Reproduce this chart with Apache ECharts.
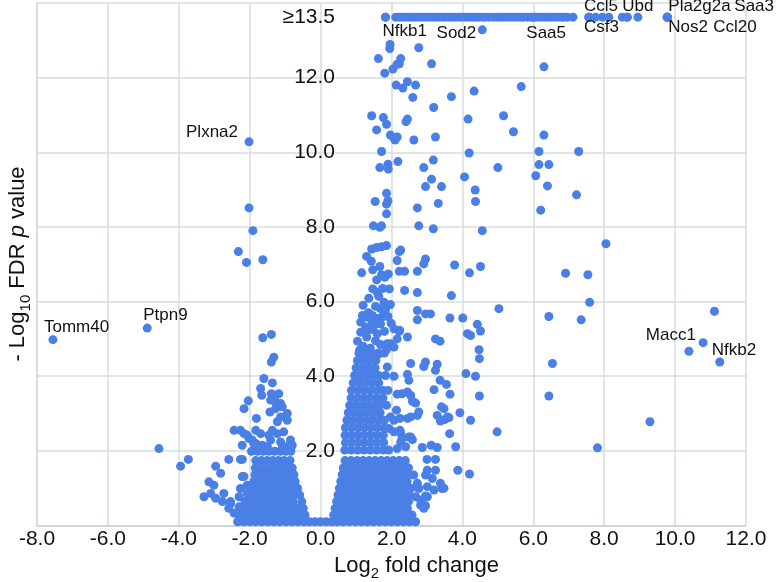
<!DOCTYPE html>
<html><head><meta charset="utf-8">
<script src="https://cdn.jsdelivr.net/npm/echarts@6.0.0/dist/echarts.min.js"></script>
<style>html,body{margin:0;padding:0;background:#fff}#c{width:780px;height:582px}</style>
</head><body><div id="c"></div>
<script>
// ---------------- data ----------------
const capY = 13.62; // plotted position of points with -log10 FDR >= 13.5
const topRowX = [1.83,2.12,2.21,2.30,2.40,2.49,2.58,2.68,2.77,2.87,2.96,3.05,3.15,3.24,3.34,3.43,3.52,3.62,3.71,3.81,3.90,3.99,4.09,4.18,4.28,4.37,4.46,4.56,4.65,4.76,4.88,4.97,5.06,5.16,5.25,5.35,5.44,5.53,5.63,5.72,5.84,5.95,6.04,6.13,6.23,6.32,6.42,6.51,6.60,6.70,6.79,6.86,6.96,7.12,7.57,7.76,7.95,8.13,8.51,8.65,8.95,9.78];

const posPts = [
[1.96,12.89],[1.95,12.78],[2.77,12.80],[1.63,12.51],[2.26,12.51],[2.22,12.37],[2.16,12.36],[3.13,12.37],
[1.81,12.12],[2.04,12.23],[2.13,11.80],[2.32,11.72],[2.45,11.89],[2.68,11.80],[2.60,11.47],[3.69,11.49],
[4.33,11.64],[3.19,11.20],[1.44,10.98],[1.77,10.93],[1.86,10.75],[1.58,10.60],[2.45,10.89],[2.41,10.82],
[4.16,10.89],[6.30,12.29],[5.66,11.76],[5.16,10.98],[5.44,10.55],[6.30,10.46],[3.24,10.41],[2.63,10.33],
[6.16,10.02],[7.28,10.02],[4.19,9.98],[6.16,9.67],[6.44,9.67],[6.07,9.37],[6.40,9.10],[5.00,9.59],
[4.06,9.34],[4.36,8.99],[7.22,8.86],[3.18,9.79],[2.91,9.59],[3.13,9.28],[2.96,9.08],[3.41,9.08],
[2.18,9.75],[1.97,10.46],[2.07,10.38],[2.16,10.41],[2.10,10.33],[1.72,10.02],[1.67,9.59],[1.90,9.68],[1.91,9.55],
[1.86,8.90],[1.90,8.70],[1.86,8.61],[1.54,8.68],[1.86,8.35],[2.73,8.51],[3.32,8.63],[4.37,8.68],
[1.49,8.03],[1.67,7.99],[1.72,8.03],[2.77,8.03],[3.18,7.95],[4.56,7.90],
[1.44,7.41],[1.58,7.45],[1.72,7.47],[1.86,7.50],[2.22,7.34],[2.26,7.38],[2.16,7.10],[1.30,7.21],[1.43,7.08],
[2.96,7.14],[2.91,7.01],[1.67,6.94],[1.47,6.85],[1.16,6.77],[2.22,6.81],[2.37,6.81],[2.73,6.81],
[1.72,6.72],[1.91,6.74],[1.58,6.58],[1.81,6.65],[3.78,6.98],[4.20,6.77],[4.51,6.94],
[1.47,6.34],[1.60,6.25],[1.36,6.09],[1.64,6.14],[1.94,6.34],[2.37,6.30],[2.73,6.24],[3.69,6.16],
[1.79,5.98],[1.97,5.92],[1.69,5.81],[1.55,5.87],[1.83,5.78],
[1.18,5.63],[1.32,5.58],[1.46,5.63],[1.13,5.45],[1.27,5.32],[1.46,5.45],[1.72,5.58],[1.69,5.40],
[1.32,5.23],[1.46,5.25],[1.13,5.18],[1.60,5.14],[1.99,5.42],[2.22,5.20],
[2.73,5.76],[2.96,5.67],[3.10,5.67],[2.73,5.51],[3.65,5.56],[4.01,5.56],[4.42,5.39],[4.51,5.21],
[4.14,5.14],[4.23,5.09],[5.03,5.81],
[1.04,4.94],[1.69,4.85],[1.97,4.87],[2.16,5.00],[2.45,5.05],[3.24,5.00],[3.37,4.94],[4.47,4.71],
[6.21,8.45],[8.05,7.55],[6.91,6.76],[7.54,6.72],[7.59,5.98],[6.44,5.60],[7.35,5.51],
[11.11,5.74],[10.79,4.90],[6.54,4.34],[6.44,3.47],
[4.48,4.47],[4.10,4.07],[4.37,4.00],[4.48,3.47],
[2.54,4.34],[2.96,4.38],[2.91,4.26],[3.29,4.32],[3.24,4.16],[2.45,4.05],[2.49,3.89],[3.37,3.89],
[3.55,3.78],[3.20,3.64],[3.65,3.52],
[2.07,4.78],[2.23,5.23],[2.07,5.27],[1.88,4.25],[1.83,4.02],[2.07,4.00],[1.88,4.87],
[2.16,3.52],[2.30,3.53],[2.45,3.58],[2.54,3.49],[2.59,3.33],[2.68,3.28],[1.86,3.22],[2.14,3.09],
[1.97,2.91],[2.07,2.82],[2.24,2.87],[2.45,2.87],[2.54,2.91],[2.73,2.95],[2.77,3.04],
[3.29,2.95],[3.48,3.13],[3.50,2.84],[3.62,2.89],[3.93,3.02],[4.23,2.82],[4.98,2.51],[3.64,2.46],
[3.41,3.18],[3.58,2.91],[3.38,2.80],[2.54,2.37],[2.26,2.47],[2.26,2.24],[2.07,2.51],
[1.93,2.60],[2.24,2.55],[2.30,2.33],[2.49,2.37],[2.59,2.30],
[2.16,2.06],[2.40,2.11],[2.87,2.09],[3.12,2.15],[3.29,2.09],[3.81,2.11],
[9.29,2.78],[7.81,2.08],
[3.00,1.77],[3.24,1.77],[3.87,1.48],[4.20,1.38],[3.01,1.48],[3.24,1.48],
[2.96,1.35],[3.15,1.26],[3.38,1.13],[3.48,1.00],[2.63,1.35],
[2.73,1.13],[2.77,0.99],[3.01,1.04],[3.20,0.95],[2.96,0.79],[2.68,0.77],[2.82,0.55],[2.96,0.53],
[3.43,0.99],[2.91,0.46],[2.82,0.68],[3.01,0.77],
[1.20,4.80],[1.40,4.75],[1.55,4.95],[1.30,5.05],[1.85,4.70],[1.65,4.60],[1.10,4.70],[1.50,5.35],
[1.35,5.70],[1.80,5.20],[1.55,5.55],[1.90,5.60],[1.20,5.90],[1.75,6.35]
];

const negPts = [
[-2.02,8.51],[-1.91,7.90],[-2.32,7.34],[-2.09,7.05],[-1.63,7.12],
[-1.63,5.03],[-1.39,5.12],[-1.32,4.51],[-1.39,4.38],
[-1.60,3.94],[-1.36,3.82],[-1.69,3.67],[-1.66,3.49],[-1.39,3.53],[-1.30,3.44],[-1.18,3.53],[-1.41,3.36],[-1.27,3.31],[-1.13,3.27],
[-2.04,3.34],[-2.16,3.13],[-1.81,2.87],[-1.43,3.04],[-1.27,3.13],[-1.08,3.18],[-0.94,3.00],[-0.94,2.82],[-1.13,2.91],[-1.22,2.78],
[-1.36,2.55],[-1.46,2.42],[-1.41,2.29],[-1.22,2.46],[-1.04,2.51],[-0.85,2.29],[-1.13,2.24],
[-1.83,2.55],[-1.69,2.46],[-2.44,2.55],[-2.26,2.55],[-2.16,2.46],
[-1.93,2.29],[-1.83,2.20],[-1.64,2.15],[-1.50,2.11],[-2.21,2.15],[-1.08,2.15],[-0.94,2.11],[-0.80,2.15],
[-2.07,2.42],[-2.02,2.33],[-1.88,2.20],
[-2.59,1.77],[-2.26,1.77],[-2.21,1.77],
[-2.96,1.59],[-2.82,1.40],[-2.21,1.31],[-3.15,1.17],[-3.01,1.08],
[-3.29,0.77],[-3.10,0.86],[-2.96,0.73],[-2.73,0.86],[-2.77,0.64],[-2.54,0.64],[-2.59,0.46],[-2.30,0.77],
[-2.07,0.86],[-2.02,0.64],[-2.44,0.33],[-2.30,0.28],
[-4.56,2.06],[-3.95,1.59],[-3.73,1.77],
[-2.16,1.31],[-2.07,1.08],[-2.26,0.99],[-2.30,0.50],[-2.54,0.59]
];

// dense core of the volcano, row by row (y value, x values)
const denseY = [0.10,0.28,0.46,0.64,0.82,1.00,1.18,1.36,1.54,1.74,1.99,2.02,2.22,2.42,2.62,2.82,3.02,3.22,3.42,3.62,3.82,4.02,4.22,4.42,4.62];
const denseX = [
[-2.34,-2.17,-2.00,-1.83,-1.66,-1.49,-1.32,-1.15,-0.98,-0.81,-0.64,-0.47,-0.31,-0.16,0.00,0.16,0.31,0.47,0.64,0.81,0.98,1.15,1.32,1.49,1.66,1.83,2.00,2.17,2.34,2.51,2.68],
[-2.27,-2.10,-1.93,-1.76,-1.59,-1.42,-1.25,-1.08,-0.91,-0.74,-0.58,-0.44,0.37,0.54,0.71,0.88,1.05,1.22,1.39,1.56,1.73,1.90,2.07,2.24,2.41,2.58],
[-2.21,-2.04,-1.87,-1.70,-1.53,-1.36,-1.19,-1.02,-0.85,-0.68,-0.49,0.41,0.58,0.75,0.92,1.09,1.26,1.43,1.60,1.77,1.94,2.11,2.28,2.45],
[-2.13,-1.96,-1.79,-1.62,-1.45,-1.28,-1.11,-0.94,-0.77,-0.53,0.45,0.62,0.79,0.96,1.13,1.30,1.47,1.64,1.81,1.98,2.15,2.32,2.48],
[-2.02,-1.86,-1.70,-1.54,-1.38,-1.22,-1.06,-0.90,-0.74,-0.59,0.49,0.66,0.83,1.00,1.17,1.34,1.51,1.68,1.85,2.02,2.19,2.36,2.50],
[-1.96,-1.80,-1.64,-1.48,-1.32,-1.16,-1.00,-0.84,-0.65,0.53,0.70,0.87,1.04,1.21,1.38,1.55,1.72,1.89,2.06,2.23,2.40,2.55],
[-1.88,-1.72,-1.56,-1.40,-1.24,-1.08,-0.92,-0.72,0.57,0.74,0.91,1.08,1.25,1.42,1.59,1.76,1.93,2.10,2.27,2.44],
[-1.85,-1.69,-1.53,-1.37,-1.21,-1.05,-0.89,-0.75,0.61,0.78,0.95,1.12,1.29,1.46,1.63,1.80,1.97,2.14,2.31,2.46],
[-1.84,-1.68,-1.52,-1.36,-1.20,-1.04,-0.90,-0.80,0.64,0.81,0.98,1.15,1.32,1.49,1.66,1.83,2.00,2.17,2.34,2.48],
[-1.83,-1.67,-1.51,-1.35,-1.19,-1.03,-0.86,0.69,0.86,1.03,1.20,1.37,1.54,1.71,1.88,2.05,2.22,2.39],
[-1.95,-1.78,-1.62,-1.46,-1.30,-1.14,-0.98,-0.84],
[0.68,0.86,1.04,1.22,1.40,1.58,1.76,1.92],
[0.70,0.88,1.06,1.24,1.42,1.60,1.78],
[0.69,0.87,1.05,1.23,1.41,1.59,1.77],
[0.70,0.88,1.06,1.24,1.42,1.60,1.79],
[0.74,0.92,1.10,1.28,1.46,1.64,1.80],
[0.78,0.96,1.14,1.32,1.50,1.68],
[0.82,1.00,1.18,1.36,1.54,1.66],
[0.86,1.04,1.22,1.40,1.58,1.76],
[0.87,1.05,1.23,1.41,1.59,1.77,1.90],
[0.92,1.10,1.28,1.46,1.64],
[0.96,1.14,1.32,1.50,1.64],
[1.00,1.18,1.36,1.54],
[1.04,1.22,1.40,1.56],
[1.08,1.26,1.44,1.62,1.80]
];

// labelled genes
const geneNames = ['Tomm40','Ptpn9','Plxna2','Nfkb1','Sod2','Saa5','Ccl5','Ubd','Csf3','Pla2g2a','Saa3','Nos2','Ccl20','Macc1','Nfkb2'];
const geneX = [-7.55,-4.89,-2.02,1.83,4.56,6.00,7.57,8.65,7.57,9.78,9.78,9.78,9.78,10.39,11.26];
const geneY = [4.98,5.29,10.28,capY,13.28,capY,capY,capY,capY,capY,capY,capY,capY,4.67,4.38];

// ---------------- styles ----------------
const F = "'Liberation Sans', Arial, Helvetica, sans-serif";
const DOT = '#4a7fe6';
const GRID = '#d6dddc';
const geneAlign = ['left','left','right','left','right','left','left','left','left','left','left','left','left','right','left'];
const geneOffset = [[-9,-12],[-4,-13],[-11,-10],[-3,14],[-6,3.5],[-7,16],[-5,-10.5],[-5,-10.5],[-5,10.5],[1,-11],[67,-11],[1,10.5],[46,10.5],[7,-15.5],[-8,-12]];

const pts = [];
topRowX.forEach(x => pts.push([x, capY]));
posPts.forEach(p => pts.push(p));
negPts.forEach(p => pts.push(p));
denseY.forEach((y, i) => denseX[i].forEach(x => pts.push([x, y])));

const geneData = geneNames.map((n, i) => ({
  name: n, value: [geneX[i], geneY[i]],
  label: { align: geneAlign[i], offset: geneOffset[i] }
}));

const chart = echarts.init(document.getElementById('c'), null, { renderer: 'canvas' });
chart.setOption({
  animation: false,
  grid: { left: 37, right: 34, top: 3, bottom: 56.5, containLabel: false },
  xAxis: {
    type: 'value', min: -8, max: 12, interval: 2,
    axisLine: { show: true, onZero: false, lineStyle: { color: '#c9d1d0', width: 1.5 } },
    axisTick: { show: false },
    splitLine: { show: true, lineStyle: { color: GRID, width: 1.5 } },
    axisLabel: { fontSize: 21, color: '#111', fontFamily: F, margin: 3, showMinLabel: true, showMaxLabel: true,
      formatter: v => v.toFixed(1) }
  },
  yAxis: {
    type: 'value', min: 0, max: 14, interval: 2,
    axisLine: { show: true, onZero: false, lineStyle: { color: GRID, width: 1.5 } },
    axisTick: { show: false },
    splitLine: { show: true, lineStyle: { color: GRID, width: 1.5 } },
    // labels sit just right of the x = 0 grid line, as in the original figure
    axisLabel: { fontSize: 21, color: '#111', fontFamily: F, margin: -298, align: 'right',
      customValues: [2, 4, 6, 8, 10, 12, capY],
      formatter: v => (v > 13 ? '\u226513.5' : v.toFixed(1)) }
  },
  series: [
    { type: 'scatter', data: pts, symbolSize: 9, itemStyle: { color: DOT, opacity: 1 }, silent: true, z: 2 },
    { type: 'scatter', data: geneData, symbolSize: 9, itemStyle: { color: DOT, opacity: 1 }, silent: true, z: 3,
      label: { show: true, position: 'inside', formatter: '{b}', fontSize: 17, color: '#111', fontFamily: F,
        verticalAlign: 'middle', textBorderWidth: 0 } }
  ],
  graphic: [
    { type: 'text', x: 334, y: 566, silent: true,
      style: { text: '{a|Log}{s|2}{a| fold change}', align: 'left', verticalAlign: 'middle', fill: '#111',
        rich: { a: { fontSize: 22, fontFamily: F, fill: '#111' },
                s: { fontSize: 15, fontFamily: F, fill: '#111', padding: [16, 0, 0, 0] } } } },
    { type: 'text', x: 17.5, y: 264, rotation: Math.PI / 2, silent: true,
      style: { text: '{a|- Log}{s|10}{a| FDR }{i|p}{a| value}', align: 'center', verticalAlign: 'middle', fill: '#111',
        rich: { a: { fontSize: 22, fontFamily: F, fill: '#111' },
                s: { fontSize: 15, fontFamily: F, fill: '#111', padding: [16, 0, 0, 0] },
                i: { fontSize: 22, fontFamily: F, fill: '#111', fontStyle: 'italic' } } } }
  ]
});
</script></body></html>
